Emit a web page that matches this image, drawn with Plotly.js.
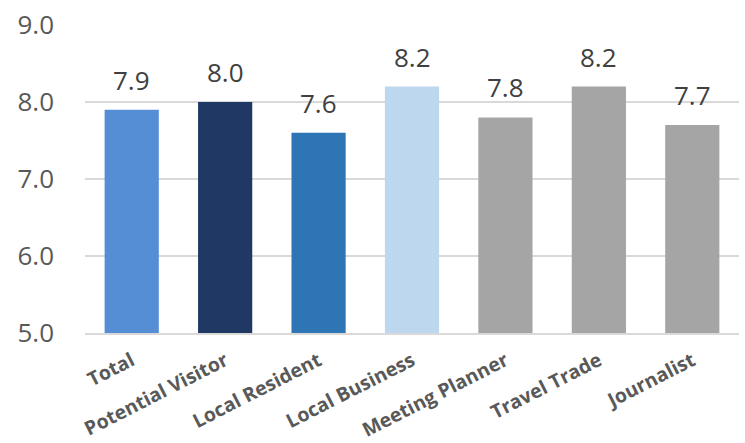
<!DOCTYPE html>
<html>
<head>
<meta charset="utf-8">
<script src="https://cdn.plot.ly/plotly-3.0.1.min.js"></script>
<style>
  html, body { margin: 0; padding: 0; background: #fff; }
  #chart { width: 745px; height: 443px; }
</style>
</head>
<body>
<div id="chart"></div>
<script>
// Average rating by respondent group
const categories = ["Total", "Potential Visitor", "Local Resident", "Local Business",
                    "Meeting Planner", "Travel Trade", "Journalist"];
const scores = [7.9, 8.0, 7.6, 8.2, 7.8, 8.2, 7.7];
const barColors = ["#558ED5", "#1F3864", "#2E75B6", "#BDD7EE",
                   "#A5A5A5", "#A5A5A5", "#A5A5A5"];
const yTicks = [5, 6, 7, 8, 9];
const yTickLabels = ["5.0", "6.0", "7.0", "8.0", "9.0"];

const trace = {
  type: "bar",
  x: categories,
  y: scores,
  base: 0,
  marker: { color: barColors },
  hoverinfo: "x+y"
};

// value labels floating above each bar
const valueLabels = categories.map((c, i) => ({
  x: c,
  y: scores[i],
  xref: "x",
  yref: "y",
  text: scores[i].toFixed(1),
  showarrow: false,
  yanchor: "middle",
  yshift: 30,
  font: { family: "Open Sans, sans-serif", size: 26, color: "#404040" }
}));

const layout = {
  width: 745,
  height: 443,
  margin: { l: 85, r: 6, t: 25, b: 110 },
  paper_bgcolor: "#fff",
  plot_bgcolor: "#fff",
  showlegend: false,
  bargap: 0.42,
  annotations: valueLabels,
  xaxis: {
    type: "category",
    tickangle: -27,
    tickfont: { family: "Open Sans, sans-serif", size: 19.5, color: "#595959", weight: "bold" },
    ticklabelstandoff: 7,
    showline: true,
    linecolor: "#D9D9D9",
    linewidth: 2,
    ticks: "",
    showgrid: false
  },
  yaxis: {
    range: [5, 9],
    tickvals: yTicks,
    ticktext: yTickLabels,
    tickfont: { family: "Open Sans, sans-serif", size: 26, color: "#595959" },
    ticklabelstandoff: 30,
    showgrid: true,
    gridcolor: "#D9D9D9",
    gridwidth: 2,
    zeroline: false,
    showline: false,
    ticks: ""
  }
};

Plotly.newPlot("chart", [trace], layout, { displayModeBar: false, staticPlot: true });
</script>
</body>
</html>
